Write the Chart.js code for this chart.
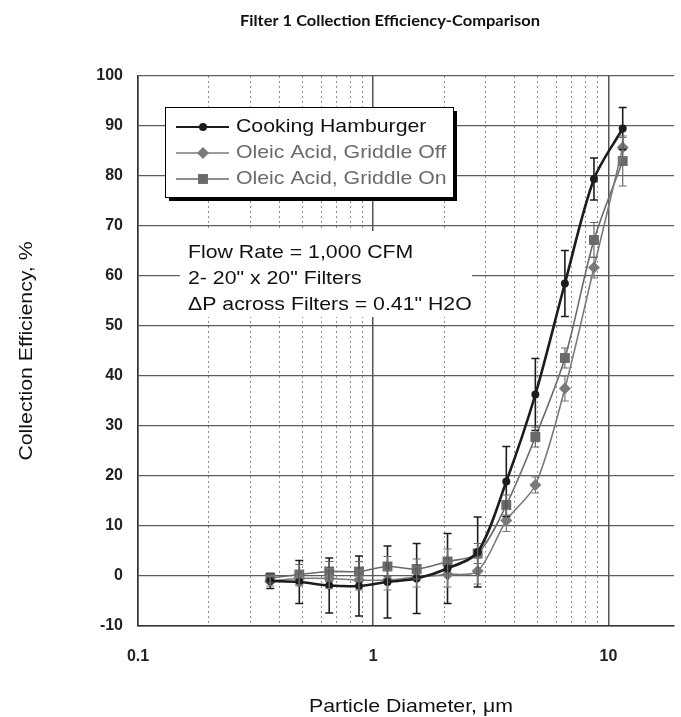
<!DOCTYPE html>
<html>
<head>
<meta charset="utf-8">
<title>Filter 1 Collection Efficiency-Comparison</title>
<script src="https://cdn.jsdelivr.net/npm/chart.js@4.4.1/dist/chart.umd.min.js"></script>
<style>
  html, body { margin: 0; padding: 0; background: #fff; }
  #chart { display: block; }
</style>
</head>
<body>
<canvas id="chart" width="681" height="717"></canvas>
<script>
// particle diameters (um) and collection efficiencies (%)
const diameters = [0.365, 0.485, 0.65, 0.87, 1.15, 1.53, 2.07, 2.78, 3.68, 4.89, 6.53, 8.68, 11.5];
const hamburger = [-1.0, -1.2, -1.9, -2.0, -1.2, -0.5, 1.5, 4.8, 18.9, 36.3, 58.5, 79.4, 89.5];
const griddleOff = [-1.0, -0.5, -0.5, -0.8, -0.8, -0.2, 0.3, 1.0, 11.1, 18.2, 37.5, 61.7, 85.7];
const griddleOn = [-0.4, 0.3, 0.9, 0.9, 1.9, 1.4, 2.9, 4.5, 14.2, 27.8, 43.6, 67.2, 83.0];

// +/- error bars
const hamburgerErr = [1.5, 4.3, 5.5, 6.0, 7.2, 7.0, 7.0, 7.0, 7.0, 7.2, 6.6, 4.2, 4.2];
const griddleOffErr = [1.0, 1.5, 2.0, 2.0, 2.0, 2.0, 2.5, 2.6, 2.2, 1.6, 2.5, 2.1, 2.0];
const griddleOnErr = [1.0, 2.0, 2.0, 2.0, 2.0, 2.0, 2.5, 2.0, 2.0, 2.0, 2.0, 3.5, 5.0];

const seriesNames = ['Cooking Hamburger', 'Oleic Acid, Griddle Off', 'Oleic Acid, Griddle On'];
const decades = [0.1, 1, 10];
const notes = ['Flow Rate = 1,000 CFM', '2- 20" x 20" Filters', '\u0394P across Filters = 0.41" H2O'];

const chartTitle = 'Filter 1 Collection Efficiency-Comparison';
const xTitle = 'Particle Diameter, \u03bcm';
const yTitle = 'Collection Efficiency, %';

const errors = [hamburgerErr, griddleOffErr, griddleOnErr];
const FONT = '"Liberation Sans", Arial, sans-serif';
const STRETCH = 1.12; // original text is a bit wide

function isDecade(v) {
    const l = Math.log10(v);
    return Math.abs(l - Math.round(l)) < 1e-9;
}

function toPoints(ys) {
    return diameters.map((d, i) => ({ x: d, y: ys[i] }));
}

function wideText(ctx, text, x, y, align) {
    ctx.save();
    ctx.translate(x, y);
    ctx.scale(STRETCH, 1);
    ctx.textAlign = align || 'left';
    ctx.fillText(text, 0, 0);
    ctx.restore();
}

function drawMarker(ctx, style, r, x, y, color) {
    ctx.save();
    ctx.fillStyle = color;
    ctx.beginPath();
    if (style === 'circle') {
        ctx.arc(x, y, r, 0, Math.PI * 2);
    } else if (style === 'rectRot') {
        ctx.moveTo(x, y - r); ctx.lineTo(x + r, y); ctx.lineTo(x, y + r); ctx.lineTo(x - r, y);
        ctx.closePath();
    } else {
        const s = r * Math.SQRT1_2;
        ctx.rect(x - s, y - s, 2 * s, 2 * s);
    }
    ctx.fill();
    ctx.restore();
}

// error bars from the series arrays, through the chart scales
const errorBars = {
    id: 'errorBars',
    afterDatasetsDraw(chart) {
        const ctx = chart.ctx;
        const xs = chart.scales.x, ys = chart.scales.y;
        chart.data.datasets.forEach((ds, di) => {
            ctx.save();
            ctx.strokeStyle = ds.borderColor;
            ctx.lineWidth = di === 0 ? 1.6 : 1.2;
            ds.data.forEach((p, i) => {
                const e = errors[di][i];
                if (!e) return;
                const px = xs.getPixelForValue(p.x);
                const top = ys.getPixelForValue(p.y + e);
                const bot = ys.getPixelForValue(p.y - e);
                ctx.beginPath();
                ctx.moveTo(px, top); ctx.lineTo(px, bot);
                ctx.moveTo(px - 4, top); ctx.lineTo(px + 4, top);
                ctx.moveTo(px - 4, bot); ctx.lineTo(px + 4, bot);
                ctx.stroke();
            });
            ctx.restore();
        });
    }
};

// white box behind the notes, drawn before the grid
const notesBox = {
    id: 'notesBox',
    beforeDraw(chart) {
        const a = chart.chartArea;
        chart.ctx.save();
        chart.ctx.fillStyle = '#fff';
        chart.ctx.fillRect(0, 0, chart.width, chart.height);
        chart.ctx.restore();
    },
    beforeDatasetsDraw(chart) {
        const a = chart.chartArea;
        const ctx = chart.ctx;
        ctx.save();
        ctx.fillStyle = '#fff';
        ctx.fillRect(a.left + 42, a.top + 155, 292, 86);
        ctx.fillStyle = '#111';
        ctx.font = '19px ' + FONT;
        ctx.textBaseline = 'middle';
        notes.forEach((t, i) => wideText(ctx, t, a.left + 50, a.top + 177 + i * 26));
        ctx.restore();
    }
};

// legend box, titles
const decorations = {
    id: 'decorations',
    afterDraw(chart) {
        const a = chart.chartArea;
        const ctx = chart.ctx;
        ctx.save();

        // legend
        const lx = a.left + 27, ly = a.top + 31, lw = 288, lh = 90;
        ctx.fillStyle = '#000';
        ctx.fillRect(lx + 4, ly + 4, lw, lh);
        ctx.fillStyle = '#fff';
        ctx.fillRect(lx, ly, lw, lh);
        ctx.strokeStyle = '#000';
        ctx.lineWidth = 1;
        ctx.strokeRect(lx + 0.5, ly + 0.5, lw, lh);

        ctx.font = '19px ' + FONT;
        ctx.textBaseline = 'middle';
        chart.data.datasets.forEach((ds, i) => {
            const y = ly + 20 + i * 26;
            ctx.strokeStyle = ds.borderColor;
            ctx.lineWidth = i === 0 ? 2 : 1.6;
            ctx.beginPath();
            ctx.moveTo(lx + 11, y);
            ctx.lineTo(lx + 64, y);
            ctx.stroke();
            drawMarker(ctx, ds.pointStyle, ds.pointRadius, lx + 38, y, ds.borderColor);
            ctx.fillStyle = i === 0 ? '#111' : '#6a6a6a';
            wideText(ctx, seriesNames[i], lx + 71, y);
        });

        // chart title
        ctx.fillStyle = '#111';
        ctx.font = 'bold 15px Lato, "Open Sans", sans-serif';
        ctx.textBaseline = 'middle';
        const tw = ctx.measureText(chartTitle).width;
        ctx.save();
        ctx.translate(390, 21);
        ctx.scale(300 / tw, 1);
        ctx.textAlign = 'center';
        ctx.fillText(chartTitle, 0, 0);
        ctx.restore();

        // axis titles
        ctx.font = '19px ' + FONT;
        ctx.fillStyle = '#111';
        wideText(ctx, xTitle, (a.left + a.right) / 2 + 5, 707, 'center');
        ctx.save();
        ctx.translate(27, (a.top + a.bottom) / 2);
        ctx.rotate(-Math.PI / 2);
        wideText(ctx, yTitle, 0, 0, 'center');
        ctx.restore();

        ctx.restore();
    }
};

const ctx = document.getElementById('chart').getContext('2d');

new Chart(ctx, {
    type: 'line',
    data: {
        datasets: [
            {
                label: seriesNames[0],
                data: toPoints(hamburger),
                borderColor: '#1c1c1c',
                backgroundColor: '#1c1c1c',
                borderWidth: 2.6,
                pointStyle: 'circle',
                pointRadius: 4,
                pointBorderWidth: 0,
                tension: 0.3
            },
            {
                label: seriesNames[1],
                data: toPoints(griddleOff),
                borderColor: '#7a7a7a',
                backgroundColor: '#7a7a7a',
                borderWidth: 1.6,
                pointStyle: 'rectRot',
                pointRadius: 6,
                pointBorderWidth: 0,
                tension: 0.3
            },
            {
                label: seriesNames[2],
                data: toPoints(griddleOn),
                borderColor: '#6a6a6a',
                backgroundColor: '#6a6a6a',
                borderWidth: 1.6,
                pointStyle: 'rect',
                pointRadius: 7,
                pointBorderWidth: 0,
                tension: 0.3
            }
        ]
    },
    options: {
        responsive: false,
        animation: false,
        layout: { padding: { top: 76, right: 0, bottom: 0, left: 0 } },
        plugins: {
            legend: { display: false },
            tooltip: { enabled: false },
            title: { display: false }
        },
        scales: {
            x: {
                type: 'logarithmic',
                min: 0.1,
                max: 19,
                afterFit(scale) { scale.height = 91; },
                afterBuildTicks(scale) {
                    const ticks = [];
                    decades.forEach(d => {
                        for (let k = 1; k <= 9; k++) {
                            const v = +(k * d).toPrecision(6);
                            if (v <= scale.max) ticks.push({ value: v });
                        }
                    });
                    scale.ticks = ticks;
                },
                grid: {
                    drawTicks: false,
                    color: c => (c.tick && isDecade(c.tick.value)) ? '#555' : '#8c8c8c',
                    lineWidth: c => (c.tick && isDecade(c.tick.value)) ? 1.5 : 1
                },
                border: {
                    color: '#333',
                    width: 1.5,
                    dash: c => (c.tick && !isDecade(c.tick.value)) ? [2, 3] : []
                },
                ticks: {
                    autoSkip: false,
                    maxRotation: 0,
                    padding: 21,
                    color: '#222',
                    font: { family: FONT, size: 16, weight: 'bold' },
                    callback: v => isDecade(v) ? String(v) : ''
                }
            },
            y: {
                min: -10,
                max: 100,
                afterFit(scale) { scale.width = 138; },
                grid: {
                    drawTicks: false,
                    color: '#5c5c5c',
                    lineWidth: 1.3
                },
                border: { color: '#333', width: 1.5 },
                ticks: {
                    stepSize: 10,
                    padding: 15,
                    color: '#222',
                    font: { family: FONT, size: 16, weight: 'bold' }
                }
            }
        }
    },
    plugins: [notesBox, errorBars, decorations]
});
</script>
</body>
</html>
